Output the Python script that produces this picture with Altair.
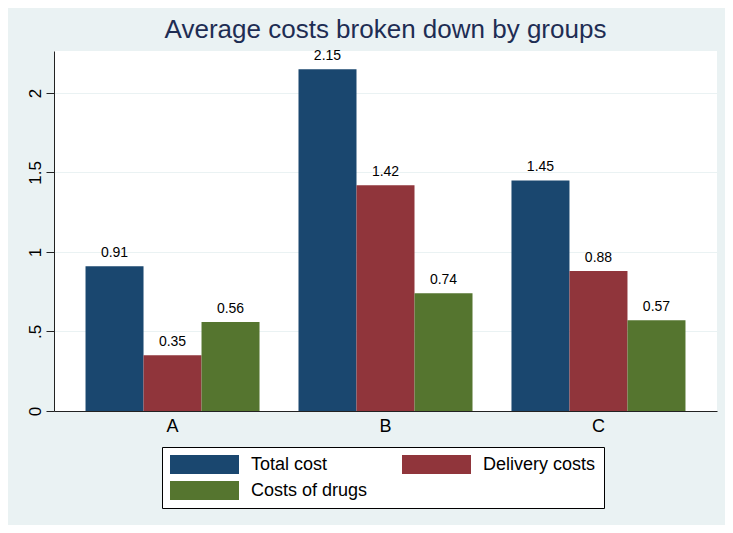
import pandas as pd
import altair as alt

# Values
groups = ["A", "B", "C"]
series = ["Total cost", "Delivery costs", "Costs of drugs"]
total_cost = [0.91, 2.15, 1.45]
delivery_costs = [0.35, 1.42, 0.88]
drug_costs = [0.56, 0.74, 0.57]
y_ticks = [0, 0.5, 1, 1.5, 2]
colors = ["#1a476f", "#90353b", "#55752f"]

# legend fills column by column, so list entries in that order
legend_order = ["Total cost", "Costs of drugs", "Delivery costs"]
legend_colors = [colors[series.index(s)] for s in legend_order]

rows = []
for name, vals in zip(series, [total_cost, delivery_costs, drug_costs]):
    for g, v in zip(groups, vals):
        rows.append({"group": g, "series": name, "value": v})
df = pd.DataFrame(rows)

FONT = "Liberation Sans"

x_enc = alt.X(
    "group:N",
    title=None,
    scale=alt.Scale(paddingInner=0.183, paddingOuter=0.148),
    axis=alt.Axis(
        labelAngle=0,
        labelFont=FONT,
        labelFontSize=18,
        labelColor="black",
        labelPadding=6,
        ticks=False,
        domainColor="#222222",
        domainWidth=1,
        grid=False,
    ),
)
off_enc = alt.XOffset(
    "series:N", sort=series, scale=alt.Scale(paddingInner=0, paddingOuter=0)
)
y_enc = alt.Y(
    "value:Q",
    title=None,
    scale=alt.Scale(domain=[0, 2.264], nice=False, zero=True),
    axis=alt.Axis(
        values=y_ticks,
        format="~g",
        labelExpr="datum.value == 0.5 ? '.5' : datum.label",
        labelAngle=270,
        labelAlign="center",
        labelBaseline="alphabetic",
        labelFont=FONT,
        labelFontSize=17,
        labelColor="black",
        labelPadding=6,
        tickSize=8,
        tickColor="#222222",
        domainColor="#222222",
        grid=True,
        gridColor="#eaf2f3",
        gridWidth=1,
    ),
)

bars = alt.Chart(df).mark_bar(strokeWidth=0).encode(
    x=x_enc,
    xOffset=off_enc,
    y=y_enc,
    color=alt.Color(
        "series:N",
        sort=legend_order,
        scale=alt.Scale(domain=legend_order, range=legend_colors),
        legend=alt.Legend(
            title=None,
            orient="none",
            legendX=108,
            legendY=396,
            columns=2,
            symbolType="M-1,-1H6.263V1H-1Z",
            symbolSize=361,
            symbolStrokeWidth=0,
            symbolOpacity=1,
            labelOffset=62,
            labelFont=FONT,
            labelFontSize=18,
            labelColor="black",
            labelLimit=0,
            fillColor="white",
            strokeColor="black",
            padding=8,
            rowPadding=7,
            columnPadding=34,
        ),
    ),
)

labels = alt.Chart(df).mark_text(
    baseline="alphabetic", dy=-9, font=FONT, fontSize=14, color="black"
).encode(
    x=alt.X("group:N"),
    xOffset=alt.XOffset("series:N", sort=series),
    y=alt.Y("value:Q"),
    text=alt.Text("value:Q", format=".2f"),
)

chart = (
    alt.layer(bars, labels)
    .properties(
        width=663,
        height=360,
        padding={"left": 46, "top": 43, "right": 8, "bottom": 114},
        autosize=alt.AutoSizeParams(type="none"),
        title=alt.TitleParams(
            "Average costs broken down by groups",
            font=FONT,
            fontSize=26,
            fontWeight="normal",
            color="#1e2d53",
            anchor="middle",
            offset=6,
        ),
    )
    .configure(background="#eaf2f3")
    .configure_view(fill="white", strokeWidth=0)
)

chart.save("out.html", embed_options={"renderer": "svg", "actions": False})
